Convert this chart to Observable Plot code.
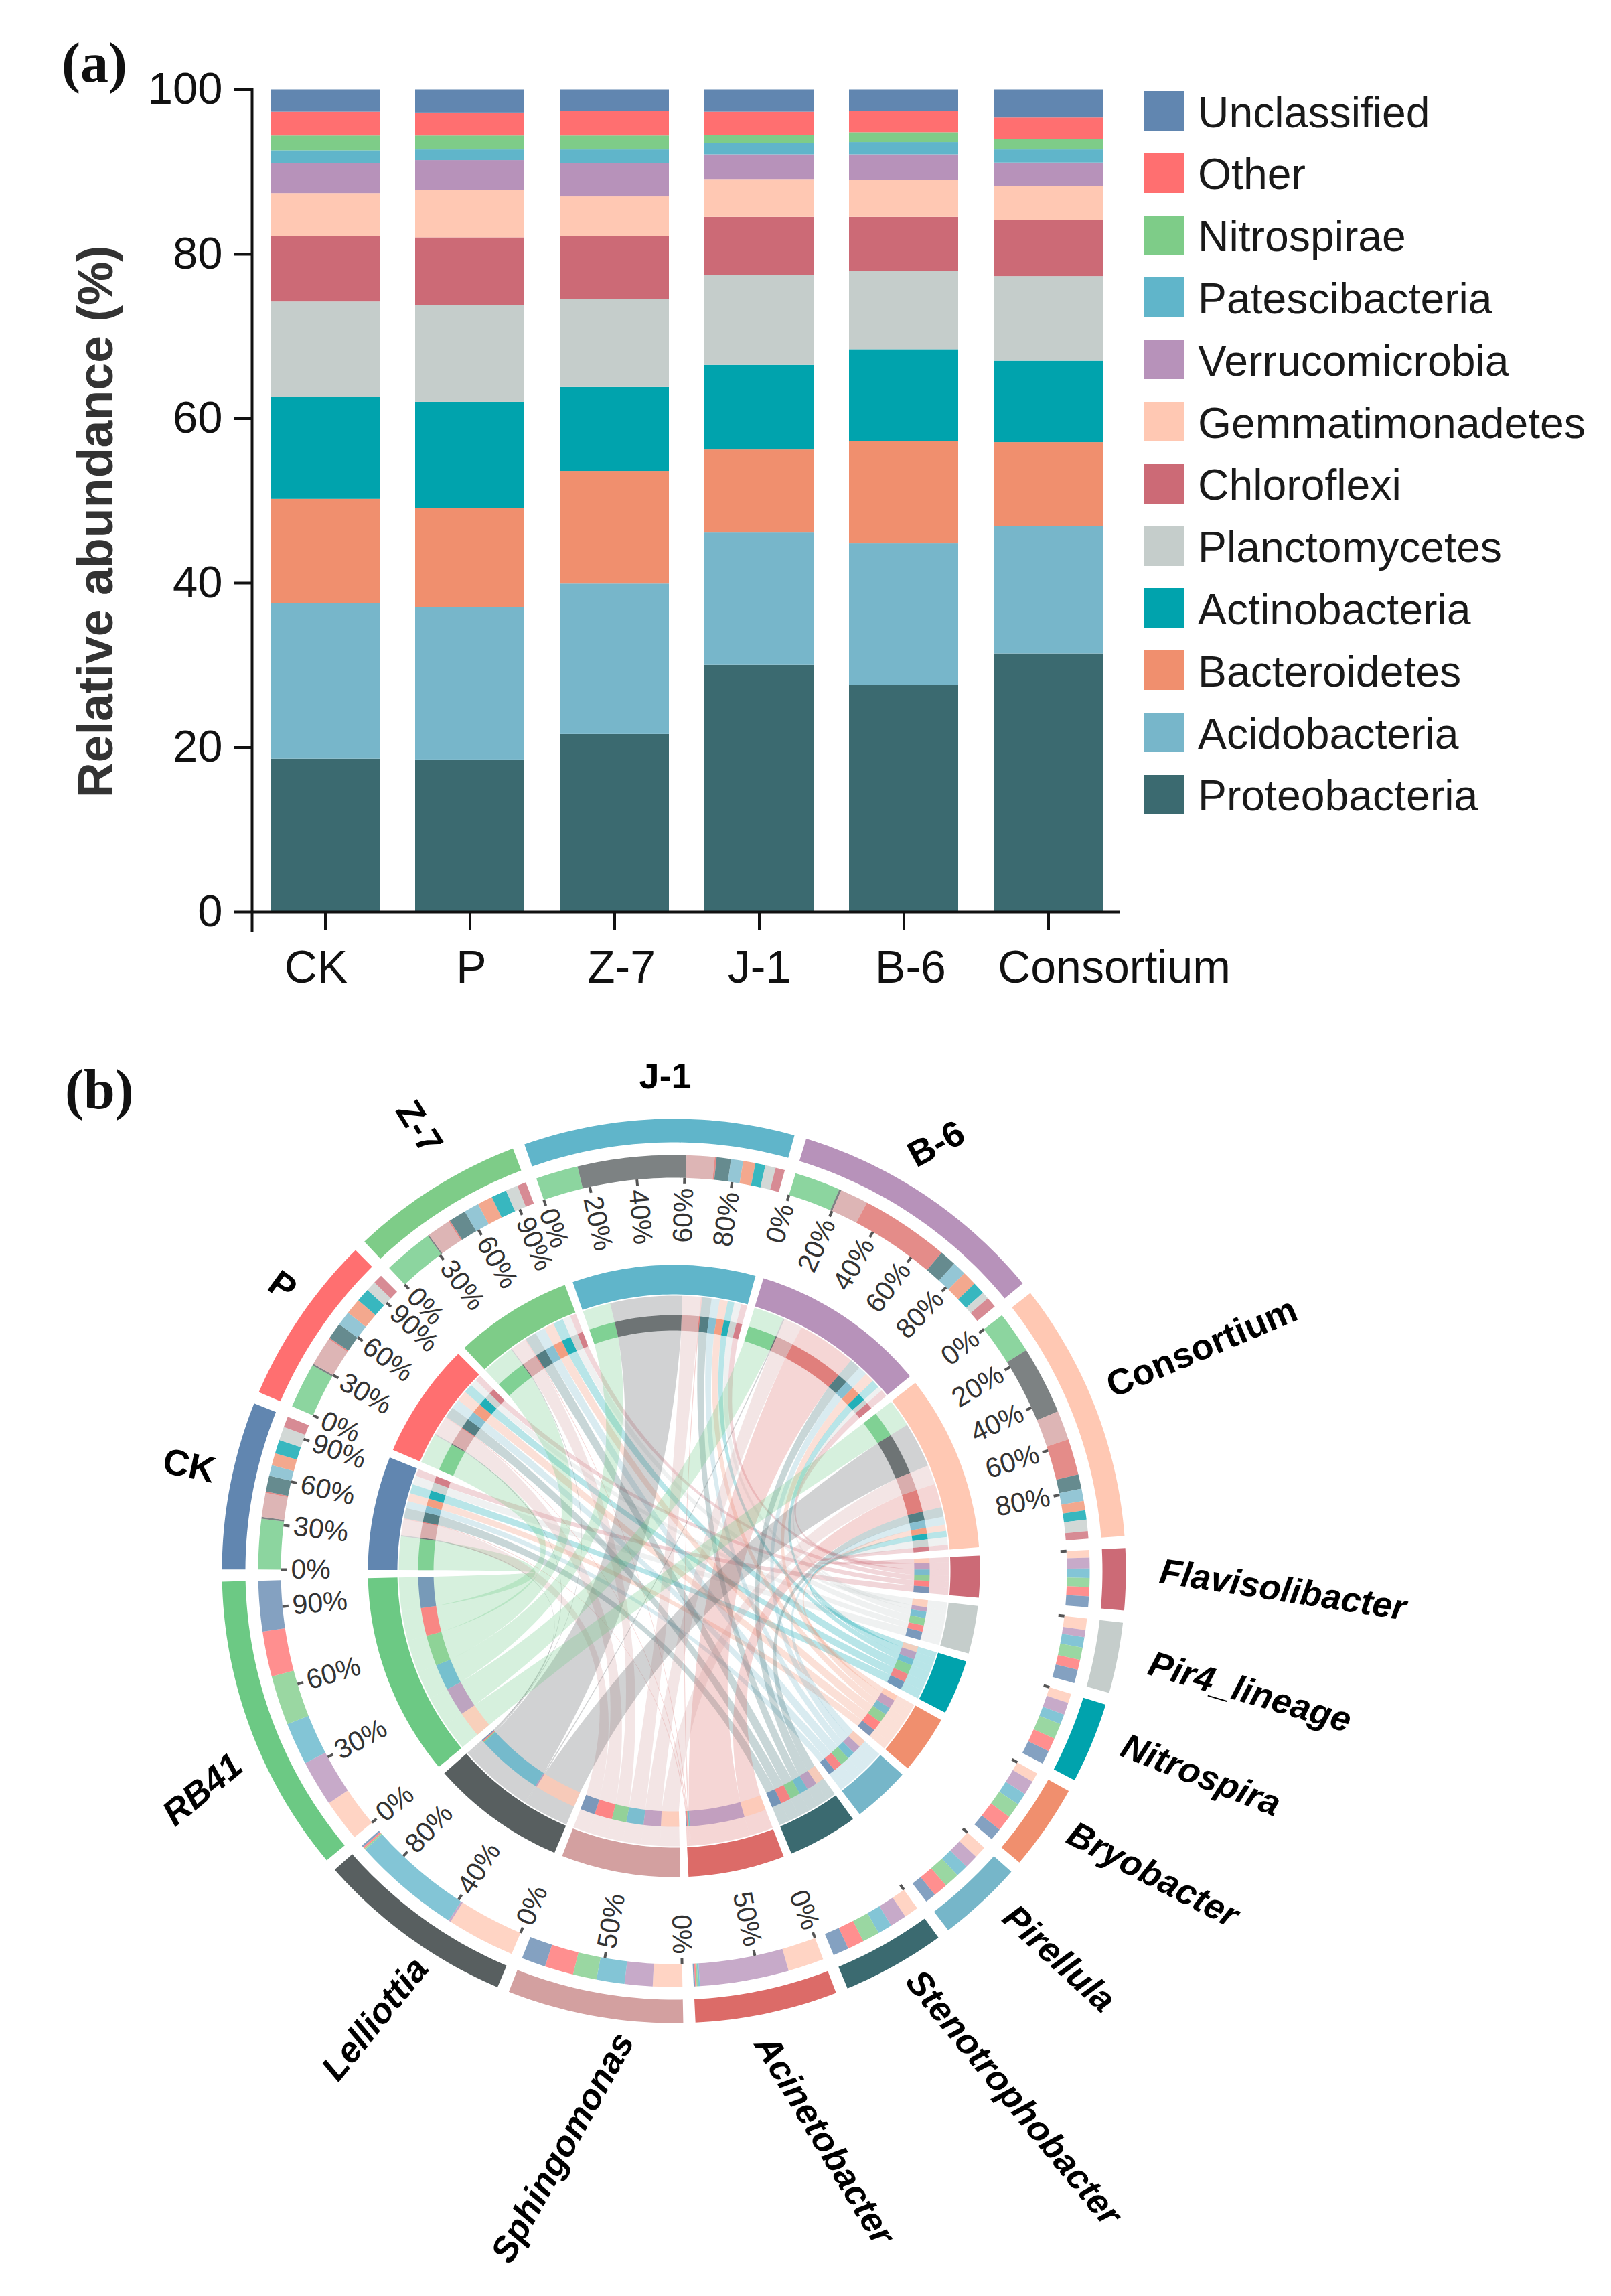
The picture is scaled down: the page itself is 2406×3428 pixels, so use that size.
<!DOCTYPE html>
<html><head><meta charset="utf-8">
<script src="https://cdn.jsdelivr.net/npm/d3@7"></script>
<script src="https://cdn.jsdelivr.net/npm/@observablehq/plot@0.6"></script>
<style>
html,body{margin:0;padding:0;background:#fff;width:2406px;height:3428px;overflow:hidden;font-family:"Liberation Sans",Arial,sans-serif}
#a,#b{position:absolute;left:0;width:2406px}
#a{top:0}#b{top:1500px}
svg{display:block;background:transparent;overflow:visible}
.tag{position:absolute;font:bold 84px "Liberation Serif",serif;color:#111;line-height:1}
#legendBox{position:absolute;left:1709px;top:0}
.row{position:absolute;left:0;display:flex;align-items:center;height:59px;white-space:nowrap;font-size:64.3px;color:#1a1a1a}
.row span+span{position:relative;top:2px}
.sw{width:59px;height:59px;margin-right:21px;flex:none}
</style></head><body>
<div id="a"></div><div id="b"></div>
<div class="tag" style="left:92px;top:52px">(a)</div>
<div class="tag" style="left:97px;top:1585px">(b)</div>
<div id="legendBox"></div>
<script>
// ---------- panel (a) data ----------
const samples = ["CK","P","Z-7","J-1","B-6","Consortium"];
const phyla = ["Proteobacteria","Acidobacteria","Bacteroidetes","Actinobacteria","Planctomycetes","Chloroflexi","Gemmatimonadetes","Verrucomicrobia","Patescibacteria","Nitrospirae","Other","Unclassified"];
const phylaColors = ["#3B6A70","#77B6CA","#F08F6E","#00A3AD","#C5CDCB","#CC6A76","#FFC8B3","#B792BA","#60B5CA","#7ECC88","#FF6F70","#6186B0"];
const abundCK  = [18.6,18.9,12.7,12.4,11.6,8.0,5.2,3.6,1.6,1.8,2.9,2.7];
const abundP   = [18.5,18.5,12.1,12.9,11.8,8.2,5.8,3.6,1.3,1.7,2.8,2.8];
const abundZ7  = [21.6,18.3,13.7,10.2,10.7,7.7,4.8,4.0,1.7,1.7,3.0,2.6];
const abundJ1  = [30.0,16.1,10.1,10.3,10.9,7.1,4.6,3.0,1.4,1.0,2.8,2.7];
const abundB6  = [27.6,17.2,12.4,11.2,9.5,6.6,4.5,3.1,1.5,1.2,2.6,2.6];
const abundCon = [31.4,15.5,10.2,9.9,10.3,6.8,4.2,2.8,1.6,1.3,2.6,3.4];
const yTicks = [0,20,40,60,80,100];

// ---------- panel (b) data ----------
const sampleColors = ["#6186B0","#FF6F70","#7ECC88","#60B5CA","#B792BA","#FFC8B3"];
const genera = ["RB41","Lelliottia","Sphingomonas","Acinetobacter","Stenotrophobacter","Pirellula","Bryobacter","Nitrospira","Pir4_lineage","Flavisolibacter"];
const generaColors = ["#6CC984","#585F60","#D3A0A0","#DC6B68","#3B6A70","#76B6C9","#F08F6E","#00A3AD","#C5CDCB","#CC6A76"];
// link sizes, columns in the order of samples
const linkRB41 = [7.0,6.3,6.9,5.9,6.4,5.85];
const linkLell = [.25,.25,.2,15.1,.3,9.5];
const linkSphi = [3.35,4.0,3.3,3.9,3.9,4.1];
const linkAcin = [.2,.2,.2,.25,12.4,5.0];
const linkSten = [2.2,2.3,2.4,2.0,2.3,2.0];
const linkPire = [1.5,2.0,2.1,1.7,1.9,1.7];
const linkBryo = [1.7,2.2,2.1,1.7,2.0,1.3];
const linkNitr = [1.9,1.9,2.15,1.4,1.7,1.3];
const linkPir4 = [1.9,1.4,1.7,1.45,1.0,1.6];
const linkFlav = [1.5,1.3,1.25,1.3,1.5,1.05];
const sampleTickStep = [30,30,30,20,20,20];
const generaTickStep = [30,40,50,50,0,0,0,0,0,0];

// ---------- panel (a) ----------
const sampleRows = [abundCK,abundP,abundZ7,abundJ1,abundB6,abundCon];
const barRows = samples.flatMap((s,i)=>phyla.map((p,j)=>({sample:s,phylum:p,value:sampleRows[i][j]})));
const labelShift = [-12,4,12,2,12,100];
const fontName = '"Liberation Sans",Arial,sans-serif';
const plotA = Plot.plot({
  width:2406,height:1500,marginLeft:376,marginRight:734,marginTop:133.5,marginBottom:139,
  style:{fontFamily:fontName,background:"transparent",overflow:"visible"},
  x:{domain:samples,paddingInner:.245,paddingOuter:.1225,axis:null},
  y:{domain:[0,100],axis:null},
  color:{domain:phyla,range:phylaColors},
  marks:[
    Plot.barY(barRows,{x:"sample",y:"value",fill:"phylum",order:phyla,dx:2}),
    Plot.axisY({ticks:yTicks,tickSize:26,tickPadding:18,fontSize:67,strokeWidth:4,stroke:"#111",fill:"#111",label:null}),
    Plot.axisX({tickSize:28,tickFormat:()=>"",strokeWidth:4,stroke:"#111",label:null,dx:2}),
    Plot.ruleY([0],{stroke:"#111",strokeWidth:4}),
    Plot.frame({anchor:"left",stroke:"#111",strokeWidth:4,insetBottom:-28}),
    ...samples.map((s,i)=>Plot.text([s],{x:d=>d,y:0,dy:84,dx:labelShift[i],text:d=>d,fontSize:68,fill:"#111"})),
    Plot.text(["Relative abundance (%)"],{frameAnchor:"left",textAnchor:"middle",dx:-232,dy:31,rotate:-90,text:d=>d,fontSize:73.5,fontWeight:"bold",fill:"#333"})
  ]
});
document.getElementById("a").appendChild(plotA);
const legendBox=document.getElementById("legendBox");
phyla.slice().reverse().forEach((p,i)=>{
  const c=phylaColors[phyla.length-1-i];
  const r=document.createElement("div");r.className="row";r.style.top=(136+92.8*i)+"px";
  r.innerHTML=`<span class="sw" style="background:${c}"></span><span>${p}</span>`;
  legendBox.appendChild(r);
});

// ---------- panel (b) layout ----------
const linkTable=[linkRB41,linkLell,linkSphi,linkAcin,linkSten,linkPire,linkBryo,linkNitr,linkPir4,linkFlav];
const sampleSum=samples.map((_,i)=>d3.sum(linkTable,l=>l[i]));
const genusSum=linkTable.map(l=>d3.sum(l));
const gap=1.55, firstAngle=270.2;
const unit=(360-16*gap)/(d3.sum(sampleSum)+d3.sum(genusSum));
const polar=(r,a)=>{const t=a*Math.PI/180;return [r*Math.sin(t),-r*Math.cos(t)];};
// sectors go clockwise: samples first, then genera from the last to the first
let cursor=firstAngle;
const sectors=[];
samples.forEach((s,i)=>{const w=sampleSum[i]*unit;sectors.push({name:s,kind:"s",i,color:sampleColors[i],a0:cursor,a1:cursor+w,step:sampleTickStep[i]});cursor+=w+gap;});
genera.map((g,j)=>j).reverse().forEach(j=>{const w=genusSum[j]*unit;sectors.push({name:genera[j],kind:"g",i:j,color:generaColors[j],a0:cursor,a1:cursor+w,step:generaTickStep[j]});cursor+=w+gap;});
// segments within sectors
const segS={},segG={};
const segments=[];
sectors.forEach(sec=>{
  let c=sec.a0;
  if(sec.kind==="s"){
    genera.forEach((g,j)=>{const w=linkTable[j][sec.i]*unit;segS[sec.i+"_"+j]=[c,c+w];segments.push({a0:c,a1:c+w,color:generaColors[j]});c+=w;});
  }else{
    for(let i=samples.length-1;i>=0;i--){const w=linkTable[sec.i][i]*unit;segG[i+"_"+sec.i]=[c,c+w];segments.push({a0:c,a1:c+w,color:sampleColors[i]});c+=w;}
  }
});
let uid=0;
function arcPts(r,a0,a1){const n=Math.max(2,Math.ceil(Math.abs(a1-a0))+1);return d3.range(n).map(k=>polar(r,a0+(a1-a0)*k/(n-1)));}
function bandRows(r0,r1,a0,a1,color){const id=uid++;return [...arcPts(r1,a0,a1),...arcPts(r0,a1,a0)].map(p=>({id,x:p[0],y:p[1],color}));}
function quad(p0,p1,n,f){const c=[(p0[0]+p1[0])*f,(p0[1]+p1[1])*f];return d3.range(1,n).map(k=>{const t=k/n,u=1-t;return [u*u*p0[0]+2*u*t*c[0]+t*t*p1[0],u*u*p0[1]+2*u*t*c[1]+t*t*p1[1]];});}
const RB=411,RC=358,F=.084;
function ribbonRows(s,g,color){
  const id=uid++;
  const [a0,a1]=s,[b0,b1]=g;
  const pts=[...arcPts(RB,a0,a1),polar(RC,a1),...quad(polar(RC,a1),polar(RC,b0),32,F),polar(RC,b0),...arcPts(RB,b0,b1),polar(RC,b1),...quad(polar(RC,b1),polar(RC,a0),32,F),polar(RC,a0)];
  return pts.map(p=>({id,x:p[0],y:p[1],color}));
}
const ribbons=[];
samples.forEach((_,i)=>genera.forEach((_,j)=>ribbons.push(...ribbonRows(segS[i+"_"+j],segG[i+"_"+j],generaColors[j]))));
const outerRing=sectors.flatMap(s=>bandRows(640,675,s.a0,s.a1,s.color));
const innerRing=sectors.flatMap(s=>bandRows(413,457,s.a0,s.a1,s.color));
const ring2=segments.flatMap(s=>bandRows(587,621,s.a0,s.a1,s.color));
const trackRing=segments.flatMap(s=>bandRows(359,382,s.a0,s.a1,s.color));
// percentage ticks
const tickRows=[];
sectors.forEach(s=>{
  if(!s.step){tickRows.push({a:s.a0,label:null});return;}
  for(let p=0;p<100;p+=s.step)tickRows.push({a:s.a0+(s.a1-s.a0)*p/100,label:p+"%"});
});
const norm=a=>((a%360)+360)%360;
tickRows.forEach(t=>{const a=norm(t.a);t.right=a<180;t.rot=a<180?a-90:a-270;const q=polar(572,t.a);t.x=q[0];t.y=q[1];const p0=polar(587,t.a),p1=polar(578,t.a);t.x1=p0[0];t.y1=p0[1];t.x2=p1[0];t.y2=p1[1];});
const labelled=tickRows.filter(t=>t.label);
// sector titles, placed by hand in the reference: clockwise angle, radius, rotation
const titlePlace={"CK":[282.2,741,12],"P":[306,723,36],"Z-7":[330.1,764,58],"J-1":[359,738,0],"B-6":[31.6,748,-28],"Consortium":[67.1,856,-23],
 "Flavisolibacter":[91.8,910,8.7],"Pir4_lineage":[101.9,879,16.3],"Nitrospira":[111.2,844,21.4],"Bryobacter":[122.4,847,27.5],"Pirellula":[135.2,816,42.7],"Stenotrophobacter":[147.2,936,50.7],"Acinetobacter":[165.2,879,59],"Sphingomonas":[190.9,877,-61],"Lelliottia":[213.7,804,-51],"RB41":[245.1,776,-39.5]};
const titles=sectors.map(s=>{const [a,r,rot]=titlePlace[s.name];const p=polar(r,a);return {name:s.name,kind:s.kind,x:p[0],y:p[1],rot};});
const lineOpts={x:"x",y:"y",z:"id",fill:"color",stroke:"none",curve:"linear"};
const plotB=Plot.plot({
  width:2406,height:1928,margin:0,
  style:{fontFamily:fontName,background:"transparent",overflow:"visible"},
  x:{domain:[-1006,1400],range:[0,2406],axis:null},
  y:{domain:[-845,1083],range:[0,1928],axis:null},
  color:{type:"identity"},
  marks:[
    Plot.line(ribbons,{...lineOpts,fillOpacity:.28}),
    Plot.line(trackRing,{...lineOpts,fillOpacity:.82}),
    Plot.line(innerRing,lineOpts),
    Plot.line(ring2,{...lineOpts,fillOpacity:.78}),
    Plot.line(outerRing,lineOpts),
    Plot.link(tickRows,{x1:"x1",y1:"y1",x2:"x2",y2:"y2",stroke:"#555",strokeWidth:4}),
    Plot.text(labelled.filter(t=>!t.right),{x:"x",y:"y",text:"label",rotate:"rot",textAnchor:"start",fontSize:41,fill:"#333"}),
    Plot.text(labelled.filter(t=>t.right),{x:"x",y:"y",text:"label",rotate:"rot",textAnchor:"end",fontSize:41,fill:"#333"}),
    Plot.text(titles.filter(t=>t.kind==="s"),{x:"x",y:"y",text:"name",rotate:"rot",fontSize:54,fontWeight:"bold",fill:"#000"}),
    Plot.text(titles.filter(t=>t.kind==="g"),{x:"x",y:"y",text:"name",rotate:"rot",fontSize:53,fontWeight:"bold",fontStyle:"italic",fill:"#000"})
  ]
});
document.getElementById("b").appendChild(plotB);
</script>
</body></html>
